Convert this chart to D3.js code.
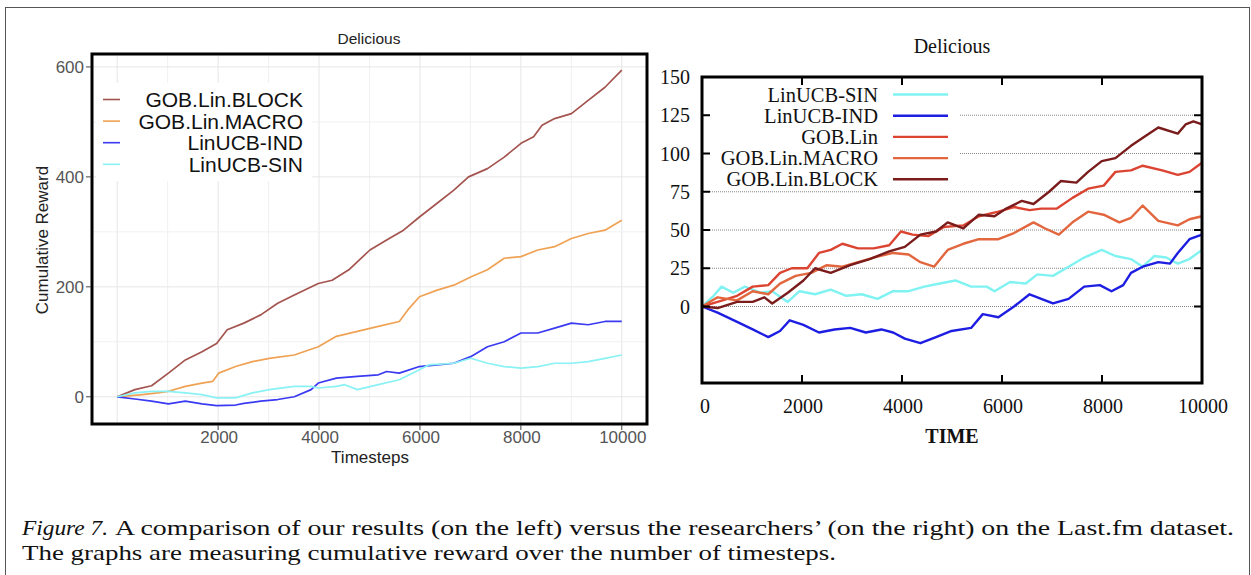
<!DOCTYPE html>
<html>
<head>
<meta charset="utf-8">
<script src="https://cdn.jsdelivr.net/npm/d3@7/dist/d3.min.js"></script>
<style>
body { margin: 0; background: #fff; }
</style>
</head>
<body>
<svg id="svg" width="1251" height="575"></svg>
<script>
// ---------- left panel (our results) ----------
var leftNames = ["GOB.Lin.BLOCK", "GOB.Lin.MACRO", "LinUCB-IND", "LinUCB-SIN"];
var leftColors = ["#a4544f", "#f0a254", "#3a3af2", "#8af2f4"];
var leftXTicks = [2000, 4000, 6000, 8000, 10000];
var leftYTicks = [0, 200, 400, 600];

var leftBlock = [[0,0],[350,13],[680,20],[1015,43],[1350,67],[1680,82],[1970,97],[2180,122],[2510,134],[2845,149],[3180,170],[3510,185],[3985,206],[4260,212],[4590,231],[5008,267],[5340,285],[5674,303],[5990,327],[6340,352],[6672,376],[6963,400],[7338,415],[7670,436],[8003,461],[8253,473],[8420,494],[8669,506],[9002,515],[9334,539],[9667,563],[10000,594]];
var leftMacro = [[0,0],[500,4],[800,7],[1015,10],[1350,19],[1680,25],[1890,28],[2010,43],[2346,55],[2680,64],[3012,70],[3510,76],[3985,91],[4343,110],[4760,119],[5175,128],[5590,137],[5760,158],[5990,182],[6340,194],[6672,203],[7005,218],[7338,231],[7670,252],[8003,255],[8336,267],[8669,273],[9002,288],[9334,297],[9667,303],[10000,321]];
var leftInd = [[0,0],[350,-4],[680,-8],[1015,-13],[1350,-8],[1680,-13],[1970,-16],[2346,-15],[2510,-12],[2845,-8],[3180,-5],[3510,0],[3843,13],[3985,25],[4343,34],[4760,37],[5175,40],[5340,46],[5590,43],[5990,55],[6340,58],[6672,61],[7005,73],[7338,91],[7670,100],[8003,116],[8336,116],[8669,125],[9002,134],[9334,131],[9667,137],[10000,137]];
var leftSin = [[0,0],[350,7],[680,10],[1015,10],[1350,7],[1680,4],[1970,-2],[2346,-2],[2680,7],[3012,13],[3510,19],[3843,19],[3985,16],[4343,19],[4509,22],[4760,13],[5175,22],[5590,31],[5990,49],[6173,58],[6672,61],[7005,70],[7338,61],[7670,55],[8003,52],[8336,55],[8669,61],[9002,61],[9334,64],[9667,70],[10000,76]];

// ---------- right panel (the researchers') ----------
var rightNames = ["LinUCB-SIN", "LinUCB-IND", "GOB.Lin", "GOB.Lin.MACRO", "GOB.Lin.BLOCK"];
var rightColors = ["#80f2f2", "#1e1ee2", "#dc4432", "#e2663e", "#7a1c1c"];
var rightXTicks = [0, 2000, 4000, 6000, 8000, 10000];
var rightYTicks = [0, 25, 50, 75, 100, 125, 150];

var rightSin = [[0,0],[234,7],[390,13],[624,9],[858,13],[1170,9],[1404,10],[1716,3],[1950,10],[2262,8],[2574,11],[2886,7],[3198,8],[3510,5],[3822,10],[4134,10],[4446,13],[4758,15],[5070,17],[5382,13],[5694,13],[5850,10],[6162,16],[6474,15],[6708,21],[7020,20],[7332,26],[7644,32],[7995,37],[8268,33],[8580,31],[8814,26],[9048,33],[9282,32],[9516,28],[9750,31],[10000,37]];
var rightInd = [[0,0],[312,-4],[702,-10],[1014,-15],[1326,-20],[1560,-16],[1755,-9],[2028,-12],[2340,-17],[2652,-15],[2964,-14],[3276,-17],[3588,-15],[3822,-17],[4056,-21],[4368,-24],[4680,-20],[4992,-16],[5382,-14],[5616,-5],[5928,-7],[6240,0],[6552,8],[6864,4],[7020,2],[7332,5],[7644,13],[7956,14],[8190,10],[8424,14],[8580,22],[8814,26],[9126,29],[9360,28],[9516,35],[9750,44],[10000,47]];
var rightGob = [[0,0],[312,3],[702,7],[1014,13],[1326,14],[1560,22],[1794,25],[2106,25],[2340,35],[2574,37],[2808,41],[3120,38],[3432,38],[3744,40],[3978,49],[4212,47],[4524,46],[4836,52],[5226,53],[5538,59],[5928,62],[6240,65],[6552,63],[6786,64],[7098,64],[7410,71],[7722,77],[8034,79],[8268,88],[8580,89],[8814,92],[9204,89],[9516,86],[9750,88],[10000,94]];
var rightMacro = [[0,0],[312,6],[702,4],[1014,10],[1326,8],[1560,15],[1872,20],[2184,22],[2496,27],[2808,26],[3120,29],[3432,32],[3822,35],[4134,34],[4368,29],[4641,26],[4914,37],[5226,41],[5538,44],[5928,44],[6240,48],[6630,55],[6864,51],[7137,47],[7410,55],[7722,62],[8034,60],[8346,55],[8580,58],[8814,66],[9126,56],[9516,53],[9750,57],[10000,59]];
var rightBlock = [[0,0],[312,-1],[702,3],[1014,3],[1248,6],[1404,2],[1716,9],[2028,17],[2262,25],[2574,22],[2964,27],[3354,31],[3744,36],[4056,39],[4368,47],[4680,49],[4914,55],[5226,51],[5538,60],[5850,59],[6084,64],[6396,69],[6630,67],[6942,75],[7176,82],[7488,81],[7722,88],[7995,95],[8268,97],[8580,105],[8892,112],[9126,117],[9516,113],[9672,119],[9828,121],[10000,119]];

var svg = d3.select("#svg");

// outer frame
svg.append("rect")
    .attr("x", 5.5).attr("y", 7.5)
    .attr("width", 1244).attr("height", 600)
    .attr("fill", "none")
    .attr("stroke", "#555")
    .attr("stroke-width", 1);

//////// LEFT CHART ////////
var L = { left: 92, right: 647, top: 54, bottom: 424 };
var lx = d3.scaleLinear().domain([-500, 10500]).range([L.left, L.right]);
var ly = d3.scaleLinear().domain([-49.5, 623.5]).range([L.bottom, L.top]);
var sans = "Liberation Sans, Arial, sans-serif";

var lg = svg.append("g");
svg.append("clipPath").attr("id", "clipL")
    .append("rect").attr("x", L.left).attr("y", L.top)
    .attr("width", L.right - L.left).attr("height", L.bottom - L.top);

var grid = lg.append("g").attr("clip-path", "url(#clipL)");
// minor + major gridlines
d3.range(0, 10001, 1000).forEach(function(t) {
    grid.append("line")
        .attr("x1", lx(t)).attr("x2", lx(t))
        .attr("y1", L.top).attr("y2", L.bottom)
        .attr("stroke", t % 2000 == 0 ? "#e6e6e6" : "#f0f0f0")
        .attr("stroke-width", 1);
});
d3.range(0, 601, 100).forEach(function(v) {
    grid.append("line")
        .attr("x1", L.left).attr("x2", L.right)
        .attr("y1", ly(v)).attr("y2", ly(v))
        .attr("stroke", v % 200 == 0 ? "#e6e6e6" : "#f0f0f0")
        .attr("stroke-width", 1);
});

// legend background hides the grid
lg.append("rect")
    .attr("x", 96).attr("y", 83)
    .attr("width", 216).attr("height", 98)
    .attr("fill", "#fff");

var lline = d3.line()
    .x(function(d) { return lx(d[0]); })
    .y(function(d) { return ly(d[1]); });

var leftData = [leftBlock, leftMacro, leftInd, leftSin];
lg.append("g").attr("clip-path", "url(#clipL)")
    .selectAll("path").data(leftData).enter()
    .append("path")
    .attr("d", lline)
    .attr("fill", "none")
    .attr("stroke", function(d, i) { return leftColors[i]; })
    .attr("stroke-width", 1.7)
    .attr("stroke-linejoin", "round");

// panel border
lg.append("rect")
    .attr("x", L.left).attr("y", L.top)
    .attr("width", L.right - L.left).attr("height", L.bottom - L.top)
    .attr("fill", "none")
    .attr("stroke", "#000")
    .attr("stroke-width", 3);

// y axis
lg.selectAll(".lyt").data(leftYTicks).enter()
    .append("line")
    .attr("x1", L.left - 6).attr("x2", L.left - 1)
    .attr("y1", function(d) { return ly(d); })
    .attr("y2", function(d) { return ly(d); })
    .attr("stroke", "#444");
lg.selectAll(".lyl").data(leftYTicks).enter()
    .append("text")
    .attr("x", L.left - 8)
    .attr("y", function(d) { return ly(d) + 6; })
    .attr("text-anchor", "end")
    .attr("font-family", sans)
    .attr("font-size", 17)
    .attr("fill", "#555")
    .text(function(d) { return d; });

// x axis
lg.selectAll(".lxt").data(leftXTicks).enter()
    .append("line")
    .attr("x1", function(d) { return lx(d); })
    .attr("x2", function(d) { return lx(d); })
    .attr("y1", L.bottom + 1).attr("y2", L.bottom + 6)
    .attr("stroke", "#444");
lg.selectAll(".lxl").data(leftXTicks).enter()
    .append("text")
    .attr("x", function(d) { return lx(d) + 1; })
    .attr("y", 443)
    .attr("text-anchor", "middle")
    .attr("font-family", sans)
    .attr("font-size", 17)
    .attr("fill", "#555")
    .text(function(d) { return d; });

lg.append("text")
    .attr("x", 370).attr("y", 463)
    .attr("text-anchor", "middle")
    .attr("font-family", sans)
    .attr("font-size", 17)
    .attr("fill", "#222")
    .text("Timesteps");

lg.append("text")
    .attr("transform", "translate(48,240)rotate(-90)")
    .attr("text-anchor", "middle")
    .attr("font-family", sans)
    .attr("font-size", 17)
    .attr("fill", "#222")
    .text("Cumulative Reward");

lg.append("text")
    .attr("x", 369).attr("y", 44)
    .attr("text-anchor", "middle")
    .attr("font-family", sans)
    .attr("font-size", 15.5)
    .attr("fill", "#222")
    .text("Delicious");

// legend
var lleg = lg.selectAll(".lleg").data(leftNames).enter().append("g")
    .attr("transform", function(d, i) { return "translate(0," + (99.5 + i * 21.6) + ")"; });
lleg.append("line")
    .attr("x1", 103).attr("x2", 120)
    .attr("stroke", function(d, i) { return leftColors[i]; })
    .attr("stroke-width", 1.6);
lleg.append("text")
    .attr("x", 303).attr("y", 7.5)
    .attr("text-anchor", "end")
    .attr("font-family", sans)
    .attr("font-size", 21)
    .attr("textLength", function(d) { return d.length > 10 ? null : null; })
    .attr("fill", "#111")
    .text(function(d) { return d; });

//////// RIGHT CHART ////////
var R = { left: 702, right: 1202, top: 77, bottom: 383 };
var rx = d3.scaleLinear().domain([0, 10000]).range([R.left, R.right]);
var ry = d3.scaleLinear().domain([-50, 150]).range([R.bottom, R.top]);
var rg = svg.append("g");
var serif = "Liberation Serif, Times New Roman, serif";

// dotted gridlines
rightYTicks.slice(0, 6).forEach(function(v) {
    rg.append("line")
        .attr("x1", R.left).attr("x2", R.right)
        .attr("y1", ry(v)).attr("y2", ry(v))
        .attr("stroke", "#888")
        .attr("stroke-width", 1)
        .attr("stroke-dasharray", "1,1");
});

// legend background
rg.append("rect")
    .attr("x", R.left + 8).attr("y", 84)
    .attr("width", 250).attr("height", 103)
    .attr("fill", "#fff");

var rline = d3.line()
    .x(function(d) { return rx(d[0]); })
    .y(function(d) { return ry(d[1]); });

var rightData = [rightSin, rightInd, rightGob, rightMacro, rightBlock];
rg.selectAll(".rser").data(rightData).enter()
    .append("path")
    .attr("d", rline)
    .attr("fill", "none")
    .attr("stroke", function(d, i) { return rightColors[i]; })
    .attr("stroke-width", 2.4)
    .attr("stroke-linejoin", "round");

// ticks on all four sides, pointing in
rightXTicks.slice(1, 5).forEach(function(t) {
    rg.append("line").attr("x1", rx(t)).attr("x2", rx(t))
        .attr("y1", R.bottom).attr("y2", R.bottom - 8)
        .attr("stroke", "#000").attr("stroke-width", 2);
    rg.append("line").attr("x1", rx(t)).attr("x2", rx(t))
        .attr("y1", R.top).attr("y2", R.top + 8)
        .attr("stroke", "#000").attr("stroke-width", 2);
});
rightYTicks.slice(0, 6).forEach(function(v) {
    rg.append("line").attr("x1", R.left).attr("x2", R.left + 8)
        .attr("y1", ry(v)).attr("y2", ry(v))
        .attr("stroke", "#000").attr("stroke-width", 2);
    rg.append("line").attr("x1", R.right).attr("x2", R.right - 8)
        .attr("y1", ry(v)).attr("y2", ry(v))
        .attr("stroke", "#000").attr("stroke-width", 2);
});

rg.append("rect")
    .attr("x", R.left).attr("y", R.top)
    .attr("width", R.right - R.left).attr("height", R.bottom - R.top)
    .attr("fill", "none")
    .attr("stroke", "#000")
    .attr("stroke-width", 3);

rg.selectAll(".ryl").data(rightYTicks).enter()
    .append("text")
    .attr("x", 690)
    .attr("y", function(d) { return ry(d) + 7; })
    .attr("text-anchor", "end")
    .attr("font-family", serif)
    .attr("font-size", 20)
    .attr("fill", "#111")
    .text(function(d) { return d; });

rg.selectAll(".rxl").data(rightXTicks).enter()
    .append("text")
    .attr("x", function(d) { return rx(d) + (d == 0 ? 3 : 1); })
    .attr("y", 413)
    .attr("text-anchor", "middle")
    .attr("font-family", serif)
    .attr("font-size", 20)
    .attr("fill", "#111")
    .text(function(d) { return d; });

rg.append("text")
    .attr("x", 952).attr("y", 443)
    .attr("text-anchor", "middle")
    .attr("font-family", serif)
    .attr("font-size", 20)
    .attr("font-weight", "bold")
    .attr("fill", "#111")
    .text("TIME");

rg.append("text")
    .attr("x", 952).attr("y", 53)
    .attr("text-anchor", "middle")
    .attr("font-family", serif)
    .attr("font-size", 20)
    .attr("fill", "#111")
    .text("Delicious");

var rleg = rg.selectAll(".rleg").data(rightNames).enter().append("g")
    .attr("transform", function(d, i) { return "translate(0," + (94.5 + i * 21.2) + ")"; });
rleg.append("line")
    .attr("x1", 893).attr("x2", 948)
    .attr("stroke", function(d, i) { return rightColors[i]; })
    .attr("stroke-width", 2.4);
rleg.append("text")
    .attr("x", 878).attr("y", 7)
    .attr("text-anchor", "end")
    .attr("font-family", serif)
    .attr("font-size", 20.5)
    .attr("fill", "#111")
    .text(function(d) { return d; });

//////// CAPTION ////////
var cap = svg.append("g")
    .attr("font-family", serif)
    .attr("font-size", 22)
    .attr("fill", "#111");
cap.append("text")
    .attr("x", 22).attr("y", 535)
    .attr("font-style", "italic")
    .attr("textLength", 86).attr("lengthAdjust", "spacingAndGlyphs")
    .text("Figure 7.");
cap.append("text")
    .attr("x", 115).attr("y", 535)
    .attr("textLength", 1119).attr("lengthAdjust", "spacingAndGlyphs")
    .text("A comparison of our results (on the left) versus the researchers\u2019 (on the right) on the Last.fm dataset.");
cap.append("text")
    .attr("x", 22).attr("y", 560)
    .attr("textLength", 814).attr("lengthAdjust", "spacingAndGlyphs")
    .text("The graphs are measuring cumulative reward over the number of timesteps.");
</script>
</body>
</html>
